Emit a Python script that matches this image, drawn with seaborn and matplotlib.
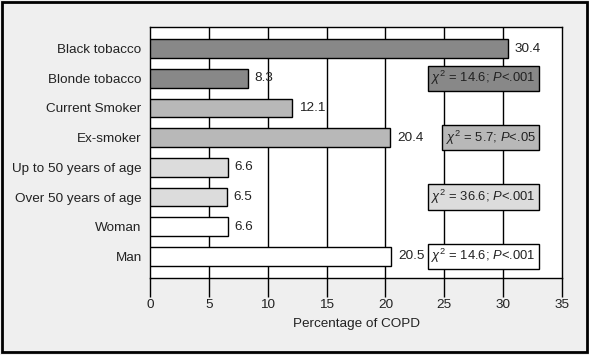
import matplotlib
matplotlib.use("Agg")
import matplotlib.pyplot as plt
import seaborn as sns
import pandas as pd

# data
categories = ["Black tobacco", "Blonde tobacco", "Current Smoker", "Ex-smoker",
              "Up to 50 years of age", "Over 50 years of age", "Woman", "Man"]
values = [30.4, 8.3, 12.1, 20.4, 6.6, 6.5, 6.6, 20.5]
bar_colors = ["#888888", "#888888", "#b8b8b8", "#b8b8b8",
              "#dcdcdc", "#dcdcdc", "#ffffff", "#ffffff"]

# chi-square annotations: row, text, box colour
stat_rows = [1, 3, 5, 7]
stat_texts = [r"$\chi^2$ = 14.6; $P$<.001", r"$\chi^2$ = 5.7; $P$<.05",
              r"$\chi^2$ = 36.6; $P$<.001", r"$\chi^2$ = 14.6; $P$<.001"]
stat_colors = ["#888888", "#b8b8b8", "#dcdcdc", "#ffffff"]

df = pd.DataFrame({"group": categories, "pct": values})

sns.set_style("white")
plt.rcParams["font.family"] = ["Liberation Sans", "DejaVu Sans"]
plt.rcParams["mathtext.fontset"] = "custom"
plt.rcParams["mathtext.rm"] = "Liberation Sans"
plt.rcParams["mathtext.it"] = "Liberation Sans:italic"

fs = 9.7
fig = plt.figure(figsize=(5.89, 3.55), dpi=100, facecolor="#efefef")
ax = fig.add_axes([150 / 589, 1 - 278 / 355, 412 / 589, 251 / 355])
ax.set_facecolor("white")

sns.barplot(data=df, x="pct", y="group", hue="group", order=categories,
            palette=dict(zip(categories, bar_colors)), legend=False,
            edgecolor="black", linewidth=1.0, width=0.64, ax=ax, zorder=3)

for cont in ax.containers:
    ax.bar_label(cont, fmt="%.1f", padding=5, fontsize=fs, color="#222222")

ax.set_xlim(0, 35)
ax.set_ylim(7.73, -0.73)
ax.set_xticks(range(0, 36, 5))
for x in range(5, 35, 5):
    ax.axvline(x, color="black", linewidth=1.0, zorder=1)

for r, t, c in zip(stat_rows, stat_texts, stat_colors):
    ax.text(32.75, r, t, ha="right", va="center", fontsize=9.4, zorder=5, color="#222222",
            bbox=dict(boxstyle="square,pad=0.27", facecolor=c, edgecolor="black", linewidth=1.0))

for s in ax.spines.values():
    s.set_color("black")
    s.set_linewidth(1.0)

ax.tick_params(axis="y", length=0, pad=6, labelsize=fs, labelcolor="#222222")
ax.tick_params(axis="x", length=14, width=1.0, color="black", pad=1, labelsize=fs,
               labelcolor="#222222", direction="out", bottom=True)
ax.set_xlabel("Percentage of COPD", fontsize=fs, labelpad=5, color="#222222")
ax.set_ylabel("")

# black frame around the whole figure
frame = plt.Rectangle((0.004, 0.008), 0.992, 0.985, transform=fig.transFigure,
                      fill=False, edgecolor="black", linewidth=2.0)
fig.patches.append(frame)

fig.savefig("out.png", dpi=100, facecolor=fig.get_facecolor())
